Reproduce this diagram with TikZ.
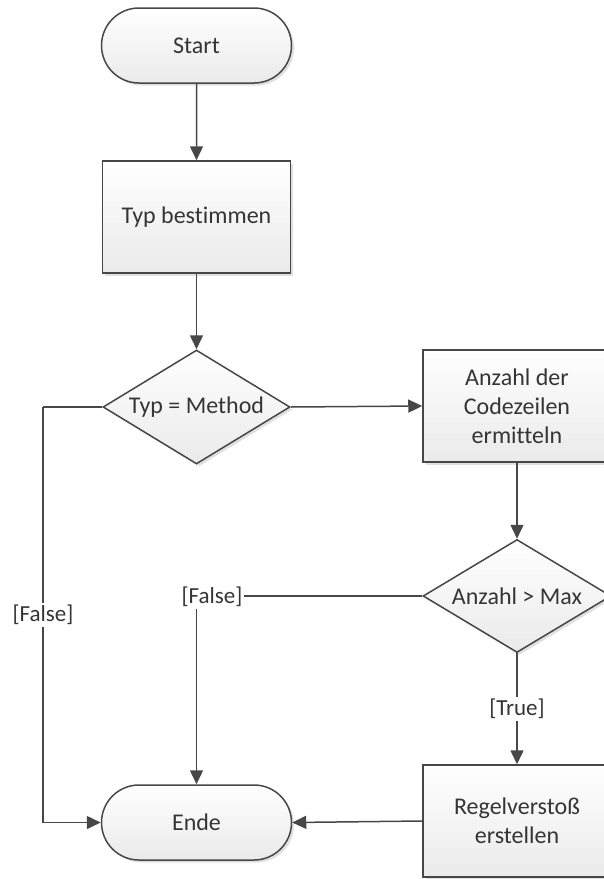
\documentclass[tikz,border=0pt]{standalone}
\usepackage{fontspec}
\setmainfont{Carlito}[Ligatures={NoCommon,NoDiscretionary}]
\usetikzlibrary{shapes.geometric,shapes.misc,arrows.meta,shadows}

\definecolor{edgegray}{HTML}{474747}
\definecolor{ink}{HTML}{353535}
\definecolor{shadebottom}{HTML}{EAEAEA}

\begin{document}
\begin{tikzpicture}[x=1pt,y=-1pt,
  every node/.style={font=\fontsize{24}{29}\selectfont, text=ink},
  shapebase/.style={draw=edgegray, line width=1.5pt, top color=white,
    bottom color=shadebottom, inner sep=0pt, align=center,
    drop shadow={shadow xshift=2.5pt, shadow yshift=-2.5pt, fill=black, opacity=0.12}},
  terminal/.style={shapebase, rounded rectangle, minimum width=190pt, minimum height=75pt},
  process/.style={shapebase, rectangle, minimum width=188pt, minimum height=112pt},
  decision/.style={shapebase, diamond, shape aspect=1.64, minimum width=187pt, minimum height=114pt},
  flow/.style={draw=edgegray, line width=1.5pt, -{Triangle[length=14pt,width=13pt]}},
  plainline/.style={draw=edgegray, line width=1.5pt},
  guard/.style={fill=white, inner sep=2pt, font=\fontsize{23}{27}\selectfont}
]
\useasboundingbox (0,0) rectangle (604,879);
\clip (0,0) rectangle (604,879);

% shapes
\node[terminal] (start) at (196.5,45.5) {Start};
\node[process]  (typ)   at (196.5,217)  {Typ bestimmen};
\node[decision] (isMethod) at (196.5,407) {Typ = Method};
\node[process]  (count) at (517,406) {Anzahl der\\Codezeilen\\ermitteln};
\node[decision, minimum width=188pt, minimum height=113pt] (tooMany) at (517,596) {Anzahl > Max};
\node[process]  (violation) at (517,821) {Regelversto\ss\\erstellen};
\node[terminal] (ende)  at (196.5,822.5) {Ende};

% junction points
\coordinate (leftRail) at (43,407);
\coordinate (midRail)  at (196.5,596);

% connectors
\draw[flow] (start) -- (typ);
\draw[flow] (typ) -- (isMethod);
\draw[flow] (isMethod.east) -- (count.west);
\draw[flow] (count) -- (tooMany);
\draw[flow] (tooMany.south) -- node[guard] (trueLbl) {[True]} (violation.north);
\draw[flow] (violation.west) -- (ende.east);
\draw[plainline] (isMethod.west) -- (leftRail);
\draw[flow] (leftRail) |- node[guard, pos=0.25] (falseLeft) {[False]} (ende.west);
\draw[plainline] (tooMany.west) -- (midRail);
\draw[flow] (midRail) -- (ende.north);
\node[guard] (falseMid) at (212,597) {[False]};
\end{tikzpicture}
\end{document}
